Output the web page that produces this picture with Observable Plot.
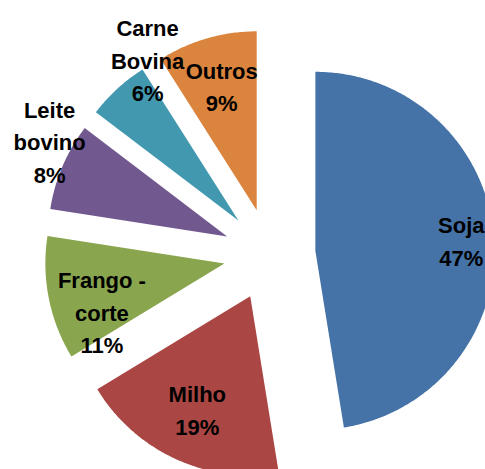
<!DOCTYPE html>
<html><head><meta charset="utf-8">
<script src="https://cdn.jsdelivr.net/npm/d3@7"></script>
<script src="https://cdn.jsdelivr.net/npm/@observablehq/plot@0.6"></script>
<style>html,body{margin:0;padding:0;background:#fff;overflow:hidden}</style>
</head><body><div id="chart"></div>
<script>
// Data
const categories = ["Soja", "Milho", "Frango - corte", "Leite bovino", "Carne Bovina", "Outros"];
const labelLines = ["Soja", "Milho", "Frango -\ncorte", "Leite\nbovino", "Carne\nBovina", "Outros"];
const shares = [47.45, 18.85, 11.15, 7.9, 5.65, 9.0];
const colors = ["#4572A7", "#AA4643", "#89A54E", "#71588F", "#4198AF", "#DB843D"];

// Layout (label placement relative to each exploded slice apex, in radius units / degrees)
const labelRadius = [0.818, 0.692, 0.733, 1.13, 1.04, 0.73];
const labelAngle = [85.3, 205.3, 249, 298.6, 330.8, 344.5];

const W = 485, H = 469;
const cx = 269, cy = 254, R = 179, explode = 46;
const e = explode / R;
const total = d3.sum(shares);
let acc = 0;
const slices = categories.map((name, i) => {
  const a0 = acc / total * 2 * Math.PI; acc += shares[i];
  const a1 = acc / total * 2 * Math.PI;
  return {name, i, a0, a1, mid: (a0 + a1) / 2};
});
const pts = [];
const labels = [];
for (const s of slices) {
  const ax = e * Math.sin(s.mid), ay = e * Math.cos(s.mid);
  pts.push({name: s.name, x: ax, y: ay});
  const n = Math.max(8, Math.ceil((s.a1 - s.a0) / 0.01));
  for (let k = 0; k <= n; k++) {
    const t = s.a0 + (s.a1 - s.a0) * k / n;
    pts.push({name: s.name, x: ax + Math.sin(t), y: ay + Math.cos(t)});
  }
  pts.push({name: s.name, x: ax, y: ay});
  const th = labelAngle[s.i] * Math.PI / 180;
  labels.push({
    x: ax + labelRadius[s.i] * Math.sin(th),
    y: ay + labelRadius[s.i] * Math.cos(th),
    text: labelLines[s.i] + "\n" + Math.round(shares[s.i]) + "%"
  });
}

const chart = Plot.plot({
  width: W, height: H, margin: 0,
  style: {background: "#fff", overflow: "hidden"},
  x: {domain: [-cx / R, (W - cx) / R], axis: null},
  y: {domain: [-(H - cy) / R, cy / R], axis: null},
  color: {domain: categories, range: colors},
  marks: [
    Plot.line(pts, {x: "x", y: "y", z: "name", fill: "name", stroke: "none", curve: "linear"}),
    Plot.text(labels, {x: "x", y: "y", text: "text", fontSize: 22, fontWeight: "bold",
      fontFamily: "'Liberation Sans', Arial, sans-serif", fill: "#000", lineHeight: 1.48,
      textAnchor: "middle", lineAnchor: "middle"})
  ]
});
document.getElementById("chart").appendChild(chart);
</script>
</body></html>
